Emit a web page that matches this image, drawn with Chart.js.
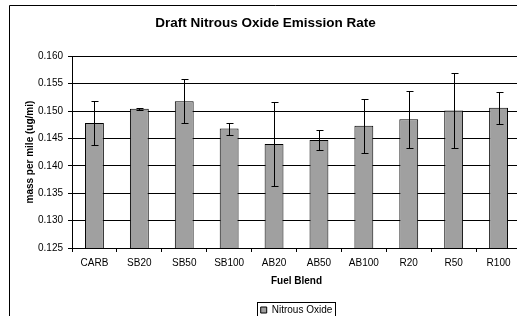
<!DOCTYPE html>
<html>
<head>
<meta charset="utf-8">
<script src="https://cdn.jsdelivr.net/npm/chart.js@4"></script>
<style>
html,body{margin:0;padding:0;background:#fff;overflow:hidden;width:517px;height:316px;}
#wrap{position:absolute;left:0;top:0;width:517px;height:316px;overflow:hidden;}
#c{display:block;}
</style>
</head>
<body>
<div id="wrap"><canvas id="c" width="540" height="330"></canvas></div>
<script>
const categories = ['CARB','SB20','SB50','SB100','AB20','AB50','AB100','R20','R50','R100'];
const values = [0.1478, 0.1504, 0.1518, 0.1468, 0.1440, 0.1447, 0.1473, 0.1485, 0.1501, 0.1506];
const errors = [0.0040, 0.0002, 0.0040, 0.0011, 0.0076, 0.0019, 0.0049, 0.0052, 0.0069, 0.0029];
const yTicks = [0.125, 0.130, 0.135, 0.140, 0.145, 0.150, 0.155, 0.160];
const seriesName = 'Nitrous Oxide';

const FONT = '"Liberation Sans", Arial, sans-serif';

const framePlugin = {
  id: 'frame',
  beforeDraw(chart) {
    const ctx = chart.ctx;
    ctx.save();
    ctx.fillStyle = '#fff';
    ctx.fillRect(0, 0, chart.width, chart.height);
    ctx.strokeStyle = '#000';
    ctx.lineWidth = 1;
    ctx.beginPath();
    ctx.moveTo(9.5, chart.height + 10);
    ctx.lineTo(9.5, 5.5);
    ctx.lineTo(chart.width + 10, 5.5);
    ctx.stroke();
    ctx.restore();
  },
  afterDraw(chart) {
    const lg = chart.legend;
    if (lg && lg.legendHitBoxes && lg.legendHitBoxes.length) {
      const hb = lg.legendHitBoxes[0];
      const ctx = chart.ctx;
      ctx.save();
      ctx.strokeStyle = '#000';
      ctx.lineWidth = 1;
      ctx.strokeRect(Math.round(hb.left - 4) + 0.5, Math.round(hb.top - 3) + 0.5, Math.round(hb.width + 6), Math.round(hb.height + 5));
      ctx.restore();
    }
  }
};

const errorBarPlugin = {
  id: 'errorBars',
  afterDatasetsDraw(chart) {
    const ctx = chart.ctx;
    const meta = chart.getDatasetMeta(0);
    const ys = chart.scales.y;
    ctx.save();
    ctx.strokeStyle = '#000';
    ctx.lineWidth = 1;
    meta.data.forEach((bar, i) => {
      const x = Math.round(bar.x) + 0.5;
      const yt = Math.round(ys.getPixelForValue(values[i] + errors[i])) + 0.5;
      const yb = Math.round(ys.getPixelForValue(values[i] - errors[i])) + 0.5;
      ctx.beginPath();
      ctx.moveTo(x, yt); ctx.lineTo(x, yb);
      ctx.moveTo(x - 3, yt); ctx.lineTo(x + 4, yt);
      ctx.moveTo(x - 3, yb); ctx.lineTo(x + 4, yb);
      ctx.stroke();
    });
    ctx.restore();
  }
};

new Chart(document.getElementById('c'), {
  type: 'bar',
  data: {
    labels: categories,
    datasets: [{
      label: seriesName,
      data: values,
      backgroundColor: '#a0a0a0',
      borderColor: '#000',
      borderWidth: 1,
      barPercentage: 0.42,
      categoryPercentage: 1.0
    }]
  },
  options: {
    responsive: false,
    animation: false,
    devicePixelRatio: 1,
    layout: { padding: { left: 10, right: 19, top: 6, bottom: 5 } },
    plugins: {
      title: {
        display: true,
        text: 'Draft Nitrous Oxide Emission Rate',
        color: '#000',
        font: { family: FONT, size: 13.5, weight: 'bold', lineHeight: 1.2 },
        padding: { top: 9, bottom: 25 }
      },
      legend: {
        display: true,
        position: 'bottom',
        fullSize: false,
        labels: {
          color: '#000',
          font: { family: FONT, size: 10 },
          boxWidth: 6,
          boxHeight: 6,
          padding: 6,
          generateLabels(chart) {
            return [{ text: seriesName, fillStyle: '#a0a0a0', strokeStyle: '#000', lineWidth: 1, datasetIndex: 0 }];
          }
        }
      },
      tooltip: { enabled: false }
    },
    scales: {
      y: {
        min: yTicks[0],
        max: yTicks[yTicks.length - 1],
        afterBuildTicks(scale) { scale.ticks = yTicks.map(v => ({ value: v })); },
        afterFit(scale) { scale.width = 62; },
        ticks: {
          color: '#000',
          font: { family: FONT, size: 10 },
          padding: 5,
          callback: v => Number(v).toFixed(3)
        },
        grid: { color: '#000', lineWidth: 1, tickLength: 4, drawTicks: true },
        border: { color: '#000', width: 1 },
        title: {
          display: true,
          text: 'mass per mile (ug/mi)',
          color: '#000',
          font: { family: FONT, size: 10, weight: 'bold', lineHeight: 1.2 },
          padding: { top: 14, bottom: 0 }
        }
      },
      x: {
        afterFit(scale) { scale.height = 51; },
        ticks: {
          color: '#000',
          font: { family: FONT, size: 10 },
          padding: 5,
          maxRotation: 0,
          autoSkip: false
        },
        grid: { offset: true, drawOnChartArea: false, color: '#000', tickLength: 4 },
        border: { color: '#000', width: 1 },
        title: {
          display: true,
          text: 'Fuel Blend',
          color: '#000',
          font: { family: FONT, size: 10, weight: 'bold', lineHeight: 1.2 },
          padding: { top: 0, bottom: 12 }
        }
      }
    }
  },
  plugins: [framePlugin, errorBarPlugin]
});
</script>
</body>
</html>
